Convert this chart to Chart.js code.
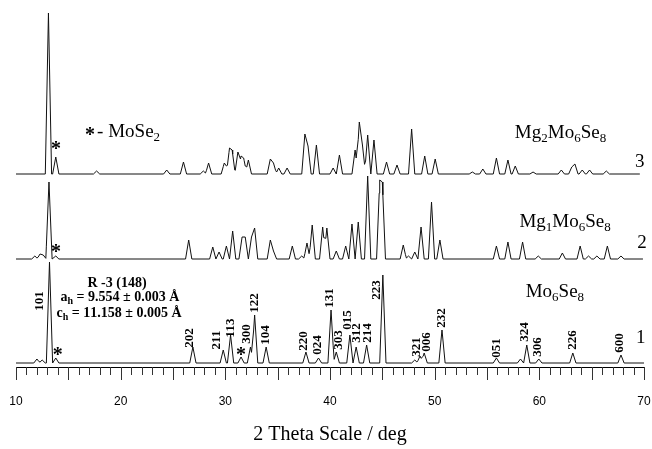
<!DOCTYPE html>
<html lang="en">
<head>
<meta charset="UTF-8">
<title>XRD Mo6Se8 / MgxMo6Se8</title>
<script src="https://cdn.jsdelivr.net/npm/chart.js"></script>
<style>
  body { margin: 0; background: #fff; }
</style>
</head>
<body>
<canvas id="xrdChart" width="652" height="449"></canvas>
<script>
// peak positions (2 theta, deg) and peak heights (a.u.)
// 1 = Mo6Se8
const peaks1 = [12.0, 12.5, 13.2, 13.8, 26.9, 29.8, 30.5, 31.5, 32.4, 32.8, 33.9, 37.7, 38.9, 40.1, 40.6,
  41.9, 42.5, 43.5, 45.05, 48.1, 48.6, 49.0, 50.7, 55.9, 58.2, 58.8, 59.95, 63.2, 67.8];
const heights1 = [4, 3, 101, 5, 16, 13, 28, 6, 16, 48, 16, 11, 5, 53, 11,
  28, 16, 18, 88, 3, 7, 10, 33, 5, 4, 18, 4, 10, 8];

// 2 = Mg1Mo6Se8
const peaks2 = [11.8, 12.3, 12.6, 13.15, 13.8, 26.5, 28.8, 29.4, 30.1, 30.7, 31.6, 31.9, 32.5, 32.8, 34.3,
  34.6, 36.4, 37.3, 37.8, 38.3, 39.3, 39.7, 40.6, 41.5, 42.1, 42.7, 43.6, 44.75, 45.0, 47.0,
  47.5, 48.1, 48.7, 49.7, 50.5, 55.9, 57.0, 58.4, 59.9, 62.2, 63.9, 64.7, 65.5, 66.5, 67.8];
const heights2 = [3, 5, 4, 77, 3, 19, 12, 7, 13, 28, 22, 22, 22, 31, 19,
  8, 13, 3, 16, 34, 32, 31, 8, 13, 35, 37, 83, 79, 77, 14,
  3, 7, 32, 57, 19, 13, 17, 17, 3, 6, 13, 3, 3, 13, 3];

// 3 = Mg2Mo6Se8
const peaks3 = [13.1, 13.8, 17.7, 24.4, 26.0, 27.9, 28.4, 29.9, 30.1, 30.4, 30.65, 31.2, 31.5, 31.75, 32.2,
  34.3, 34.6, 35.1, 35.9, 37.6, 37.9, 38.7, 40.3, 40.9, 42.4, 42.8, 43.1, 43.6, 44.2, 45.4,
  46.4, 47.8, 49.05, 50.05, 53.6, 54.6, 55.9, 57.0, 57.7, 59.4, 62.1, 63.1, 63.4, 64.1, 64.8, 66.4];
const heights3 = [161, 17, 3, 4, 12, 3, 11, 11, 8, 26, 24, 22, 18, 16, 14,
  15, 11, 6, 6, 40, 28, 29, 6, 19, 24, 52, 29, 39, 34, 12,
  9, 45, 18, 15, 2, 5, 16, 14, 8, 2, 4, 7, 10, 4, 4, 3];

// Miller indices marked on pattern 1
const hklText = ['101', '202', '211', '113', '300', '122', '104', '220', '024', '131', '303', '015',
  '312', '214', '223', '321', '006', '232', '051', '324', '306', '226', '600'];
const hklX = [12.29, 26.62, 29.2, 30.54, 32.06, 32.83, 33.88, 37.51, 38.85, 40.0, 40.85, 41.71,
  42.57, 43.62, 44.48, 48.3, 49.25, 50.69, 55.94, 58.61, 59.86, 63.2, 67.69];
const hklY = [66, 29, 27, 39, 33, 64, 32, 26, 22, 69, 27, 47,
  34, 34, 77, 20, 25, 49, 19, 35, 20, 27, 24];

// MoSe2 impurity marks
const starX = [13.82, 13.82, 14.0, 31.49];
const starY = [221, 118, 15, 15];

const xTicks = [10, 20, 30, 40, 50, 60, 70];

// vertical stacking of the three patterns (a.u.)
const offsets = [4, 108, 193];
const ends = [70, 69.9, 69.6];
const halfWidth = 0.3;

// trace built from the peak list: each peak drawn as a narrow triangle on a flat baseline
function pattern(pos, hts, base, end) {
  const xs = [10, end];
  pos.forEach(p => xs.push(p - halfWidth, p, p + halfWidth));
  xs.sort((a, b) => a - b);
  return xs.filter(v => v >= 10 && v <= end).map(v => {
    let h = 0;
    pos.forEach((p, i) => {
      const t = 1 - Math.abs(v - p) / halfWidth;
      if (t > 0) h = Math.max(h, hts[i] * t);
    });
    return { x: v, y: base + h };
  });
}

const serif = '"Liberation Serif", "Times New Roman", serif';

// text with '_' marking a one-character subscript
function drawRich(ctx, str, x, y, size, bold, align) {
  const parts = [];
  for (let i = 0; i < str.length; i++) {
    if (str[i] === '_') { parts.push({ t: str[i + 1], sub: true }); i++; }
    else parts.push({ t: str[i], sub: false });
  }
  const w = bold ? 'bold ' : '';
  const big = w + size + 'px ' + serif;
  const small = w + Math.round(size * 0.7) + 'px ' + serif;
  let total = 0;
  parts.forEach(p => { ctx.font = p.sub ? small : big; p.w = ctx.measureText(p.t).width; total += p.w; });
  let cx = align === 'center' ? x - total / 2 : x;
  ctx.textAlign = 'left';
  ctx.textBaseline = 'middle';
  parts.forEach(p => {
    ctx.font = p.sub ? small : big;
    ctx.fillText(p.t, cx, p.sub ? y + size * 0.3 : y);
    cx += p.w;
  });
}

const notes = [
  { text: '- MoSe_2', x: 17.75, y: 235, size: 19, bold: false, align: 'left' },
  { text: 'Mg_2Mo_6Se_8', x: 57.66, y: 234, size: 19, bold: false, align: 'left' },
  { text: 'Mg_1Mo_6Se_8', x: 58.1, y: 145, size: 19, bold: false, align: 'left' },
  { text: 'Mo_6Se_8', x: 58.7, y: 75, size: 19, bold: false, align: 'left' },
  { text: '3', x: 69.6, y: 205, size: 19, bold: false, align: 'center' },
  { text: '2', x: 69.8, y: 124, size: 19, bold: false, align: 'center' },
  { text: '1', x: 69.7, y: 29, size: 19, bold: false, align: 'center' },
  { text: 'R -3 (148)', x: 19.65, y: 84, size: 14, bold: true, align: 'center' },
  { text: 'a_h = 9.554 \u00b1 0.003 \u00c5', x: 19.93, y: 70, size: 14, bold: true, align: 'center' },
  { text: 'c_h = 11.158 \u00b1 0.005 \u00c5', x: 19.84, y: 54, size: 14, bold: true, align: 'center' }
];

const xrdText = {
  id: 'xrdText',
  afterDraw(chart) {
    const { ctx, scales: { x, y } } = chart;
    ctx.save();
    ctx.fillStyle = '#000';

    // minor ticks every degree, longer every 5
    const axisY = chart.chartArea.bottom;
    ctx.strokeStyle = '#333';
    ctx.lineWidth = 1;
    for (let v = 10; v <= 70; v++) {
      const px = Math.round(x.getPixelForValue(v)) + 0.5;
      ctx.beginPath();
      ctx.moveTo(px, axisY);
      ctx.lineTo(px, axisY + (v % 5 === 0 ? 13 : 8));
      ctx.stroke();
    }

    // hkl labels, reading bottom to top
    ctx.font = 'bold 13px ' + serif;
    ctx.textAlign = 'center';
    ctx.textBaseline = 'middle';
    hklText.forEach((t, i) => {
      ctx.save();
      ctx.translate(x.getPixelForValue(hklX[i]), y.getPixelForValue(hklY[i]));
      ctx.rotate(-Math.PI / 2);
      ctx.fillText(t, 0, 0);
      ctx.restore();
    });

    // stars
    ctx.font = 'bold 20px ' + serif;
    starX.forEach((sx, i) => {
      ctx.fillText('*', x.getPixelForValue(sx), y.getPixelForValue(starY[i]) + 4);
    });
    ctx.fillText('*', x.getPixelForValue(17.07), y.getPixelForValue(235) + 4);

    notes.forEach(n => {
      drawRich(ctx, n.text, x.getPixelForValue(n.x), y.getPixelForValue(n.y), n.size, n.bold, n.align);
    });
    ctx.restore();
  }
};

const lineStyle = { borderColor: '#111', borderWidth: 1, pointRadius: 0, tension: 0, fill: false };

new Chart(document.getElementById('xrdChart'), {
  type: 'line',
  data: {
    datasets: [
      { label: 'Mo6Se8', data: pattern(peaks1, heights1, offsets[0], ends[0]), ...lineStyle },
      { label: 'Mg1Mo6Se8', data: pattern(peaks2, heights2, offsets[1], ends[1]), ...lineStyle },
      { label: 'Mg2Mo6Se8', data: pattern(peaks3, heights3, offsets[2], ends[2]), ...lineStyle }
    ]
  },
  options: {
    responsive: false,
    animation: false,
    layout: { padding: { left: 16, right: 8, top: 0, bottom: 0 } },
    plugins: { legend: { display: false }, tooltip: { enabled: false } },
    scales: {
      x: {
        type: 'linear',
        min: 10,
        max: 70,
        afterBuildTicks: scale => { scale.ticks = xTicks.map(v => ({ value: v })); },
        grid: { display: false, drawTicks: true, tickLength: 27 },
        border: { display: true, color: '#000', width: 1 },
        ticks: { padding: 0, color: '#000', maxRotation: 0, font: { family: '"Liberation Sans", Arial, sans-serif', size: 12 } },
        title: {
          display: true,
          text: '2 Theta Scale / deg',
          color: '#000',
          font: { family: serif, size: 20 },
          padding: { top: 0, bottom: 2 }
        },
        afterFit: scale => { scale.height = 82; }
      },
      y: { display: false, min: 0, max: 367 }
    }
  },
  plugins: [xrdText]
});
</script>
</body>
</html>
